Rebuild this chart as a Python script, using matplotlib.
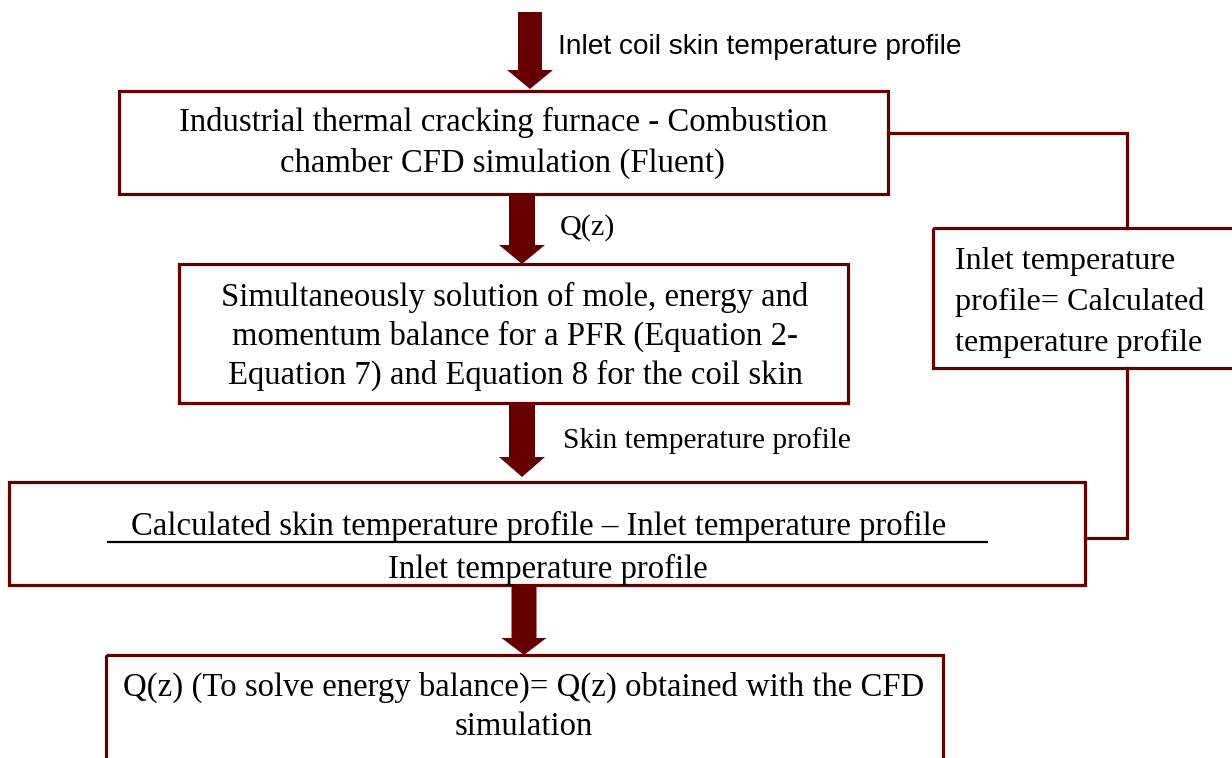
import matplotlib.pyplot as plt
from matplotlib.patches import Rectangle, FancyArrow

# colores y fuentes
rojo = '#660000'
serif = ['Liberation Serif', 'DejaVu Serif']
sans = ['Liberation Sans', 'DejaVu Sans']

# cajas del diagrama: (x, y, ancho, alto) en pixeles, y su texto
cajas = [
    (119, 91, 769, 103),
    (179, 264, 669, 139),
    (9, 482, 1076, 103),
    (106, 655, 837, 140),
    (933, 228, 330, 140),
]
textos_caja1 = ['Industrial thermal cracking furnace - Combustion',
                'chamber CFD simulation (Fluent)']
textos_caja2 = ['Simultaneously solution of mole, energy and',
                'momentum balance for a PFR (Equation 2-',
                'Equation 7) and Equation 8 for the coil skin']
textos_caja3 = ['Calculated skin temperature profile \u2013 Inlet temperature profile',
                'Inlet temperature profile']
textos_caja4 = ['Q(z) (To solve energy balance)= Q(z) obtained with the CFD',
                'simulation']
textos_lateral = ['Inlet temperature', 'profile= Calculated', 'temperature profile']

# flechas: (x centro, y inicio, y final)
flechas = [(530, 12, 89), (522, 194, 264), (522, 403, 477), (524, 585, 655)]
etiquetas = ['Inlet coil skin temperature profile', 'Q(z)', 'Skin temperature profile']

fig = plt.figure(figsize=(12.32, 7.58), dpi=100)
ax = fig.add_axes([0, 0, 1, 1])
ax.set_xlim(0, 1232)
ax.set_ylim(758, 0)
ax.axis('off')

for (x, y, w, h) in cajas:
    ax.add_patch(Rectangle((x, y), w, h, fill=False, edgecolor=rojo, linewidth=2.3, clip_on=False))

# flechas gruesas
anchos = [24, 26, 26, 25]
cabezas = [46, 46, 46, 45]
largos = [19, 19, 20, 17]
for (xc, y0, y1), a, c, l in zip(flechas, anchos, cabezas, largos):
    ax.add_patch(FancyArrow(xc, y0, 0, y1 - y0, width=a, head_width=c, head_length=l,
                            length_includes_head=True, color=rojo, linewidth=0))

# conectores del lazo de realimentacion
ax.plot([888, 1127, 1127], [133, 133, 228], color=rojo, linewidth=2.3, solid_joinstyle='miter')
ax.plot([1127, 1127, 1085], [368, 538, 538], color=rojo, linewidth=2.3, solid_joinstyle='miter')

fs = 23.6
ax.text(558, 47, etiquetas[0], fontsize=20.2, family=sans, va='center', ha='left')
ax.text(560, 228, etiquetas[1], fontsize=fs * 0.92, family=serif, va='center', ha='left')
ax.text(563, 441, etiquetas[2], fontsize=fs * 0.9, family=serif, va='center', ha='left')

for t, y in zip(textos_caja1, [122, 163]):
    ax.text(503, y, t, fontsize=fs, family=serif, ha='center', va='center')
for t, y in zip(textos_caja2, [297, 336, 375]):
    ax.text(515, y, t, fontsize=fs, family=serif, ha='center', va='center')
for t, y in zip(textos_caja4, [687, 727]):
    ax.text(524, y, t, fontsize=fs, family=serif, ha='center', va='center')
for t, y in zip(textos_lateral, [261, 302, 343]):
    ax.text(955, y, t, fontsize=fs * 0.98, family=serif, ha='left', va='center')

# fraccion dentro de la caja 3 (la segunda linea queda recortada como en el original)
ax.text(539, 526, textos_caja3[0], fontsize=fs, family=serif, ha='center', va='center')
ax.plot([108, 987], [542, 542], color='black', linewidth=1.6)
t2 = ax.text(548, 569, textos_caja3[1], fontsize=fs, family=serif, ha='center', va='center')
clip = Rectangle((9, 482), 1076, 92, transform=ax.transData)
t2.set_clip_path(clip)

plt.savefig('out.png', dpi=100)
